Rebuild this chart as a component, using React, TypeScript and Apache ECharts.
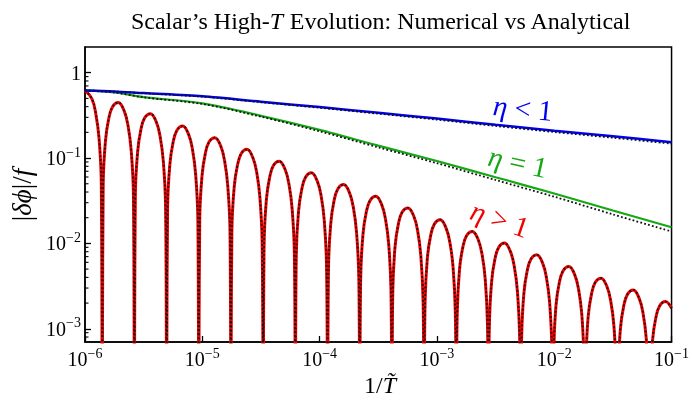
import React, { useEffect, useRef } from 'react';
import * as echarts from 'echarts';

// x-axis: 1/T~ (log10 values), y: |dphi|/f (log10 values)
const xTickExponents = [-6, -5, -4, -3, -2, -1];
const yTickExponents = [-3, -2, -1, 0];

const smoothLogX = [-6, -5.75, -5.5, -5, -4.5, -4, -3.5, -3, -2.5, -2, -1.5, -1];
const blueLogY = [-0.2075, -0.219, -0.239, -0.277, -0.34, -0.403, -0.47, -0.537, -0.61, -0.68, -0.745, -0.814];
const blueAnaLogY = [-0.2075, -0.22, -0.241, -0.281, -0.346, -0.411, -0.48, -0.55, -0.624, -0.695, -0.762, -0.832];
const greenLogY = [-0.2075, -0.232, -0.286, -0.36, -0.505, -0.67, -0.855, -1.035, -1.225, -1.415, -1.615, -1.81];
const greenAnaLogY = [-0.2075, -0.233, -0.289, -0.366, -0.515, -0.686, -0.875, -1.06, -1.257, -1.453, -1.66, -1.86];

const redLogX = [
  -6, -5.941, -5.908, -5.88, -5.861,
  -5.853, -5.845, -5.826, -5.798, -5.765, -5.716, -5.666, -5.633, -5.606, -5.587,
  -5.579, -5.571, -5.552, -5.524, -5.491, -5.442, -5.392, -5.359, -5.332, -5.313,
  -5.304, -5.296, -5.277, -5.249, -5.216, -5.167, -5.117, -5.084, -5.057, -5.038,
  -5.03, -5.022, -5.003, -4.975, -4.942, -4.893, -4.843, -4.81, -4.783, -4.764,
  -4.756, -4.748, -4.729, -4.701, -4.668, -4.619, -4.569, -4.536, -4.509, -4.49,
  -4.481, -4.473, -4.454, -4.426, -4.393, -4.344, -4.294, -4.261, -4.234, -4.215,
  -4.207, -4.199, -4.18, -4.152, -4.119, -4.07, -4.02, -3.987, -3.96, -3.941,
  -3.932, -3.924, -3.905, -3.877, -3.844, -3.795, -3.745, -3.712, -3.685, -3.666,
  -3.658, -3.65, -3.631, -3.603, -3.57, -3.521, -3.471, -3.438, -3.411, -3.392,
  -3.384, -3.376, -3.357, -3.329, -3.296, -3.247, -3.197, -3.164, -3.137, -3.118,
  -3.109, -3.101, -3.082, -3.054, -3.021, -2.972, -2.922, -2.889, -2.862, -2.843,
  -2.835, -2.827, -2.808, -2.78, -2.747, -2.698, -2.648, -2.615, -2.588, -2.569,
  -2.561, -2.553, -2.534, -2.506, -2.473, -2.424, -2.374, -2.341, -2.314, -2.295,
  -2.286, -2.278, -2.259, -2.231, -2.198, -2.149, -2.099, -2.066, -2.039, -2.02,
  -2.012, -2.004, -1.985, -1.957, -1.924, -1.875, -1.825, -1.792, -1.765, -1.746,
  -1.738, -1.73, -1.711, -1.683, -1.65, -1.601, -1.551, -1.518, -1.491, -1.472,
  -1.463, -1.455, -1.436, -1.408, -1.375, -1.326, -1.276, -1.243, -1.216, -1.197,
  -1.189, -1.181, -1.162, -1.134, -1.101, -1.052, -1.0,
];
const redLogY = [
  -0.2075, -0.306, -0.48, -0.773, -1.298,
  -4, -1.312, -0.805, -0.54, -0.399, -0.35, -0.448, -0.622, -0.915, -1.44,
  -4, -1.442, -0.935, -0.67, -0.529, -0.48, -0.578, -0.752, -1.045, -1.57,
  -4, -1.586, -1.079, -0.814, -0.673, -0.624, -0.722, -0.896, -1.189, -1.714,
  -4, -1.723, -1.216, -0.951, -0.81, -0.761, -0.859, -1.033, -1.326, -1.851,
  -4, -1.86, -1.353, -1.088, -0.947, -0.898, -0.996, -1.17, -1.463, -1.988,
  -4, -1.998, -1.491, -1.226, -1.085, -1.036, -1.134, -1.308, -1.601, -2.126,
  -4, -2.135, -1.628, -1.363, -1.222, -1.173, -1.271, -1.445, -1.738, -2.263,
  -4, -2.272, -1.765, -1.5, -1.359, -1.31, -1.408, -1.582, -1.875, -2.4,
  -4, -2.409, -1.902, -1.637, -1.496, -1.447, -1.545, -1.719, -2.012, -2.537,
  -4, -2.546, -2.039, -1.774, -1.633, -1.584, -1.682, -1.856, -2.149, -2.674,
  -4, -2.684, -2.177, -1.912, -1.771, -1.722, -1.82, -1.994, -2.287, -2.812,
  -4, -2.821, -2.314, -2.049, -1.908, -1.859, -1.957, -2.131, -2.424, -2.949,
  -4, -2.958, -2.451, -2.186, -2.045, -1.996, -2.094, -2.268, -2.561, -3.086,
  -4, -3.095, -2.588, -2.323, -2.182, -2.133, -2.231, -2.405, -2.698, -3.223,
  -4, -3.232, -2.725, -2.46, -2.319, -2.27, -2.368, -2.542, -2.835, -3.36,
  -4, -3.369, -2.862, -2.597, -2.456, -2.407, -2.505, -2.679, -2.972, -3.497,
  -4, -3.507, -3.0, -2.735, -2.594, -2.545, -2.643, -2.817, -3.11, -3.635,
  -4, -3.643, -3.136, -2.871, -2.73, -2.681, -2.76,
];

const SERIF = "'Liberation Serif', 'DejaVu Serif', serif";

export default function App() {
  const ref = useRef<HTMLDivElement>(null);
  useEffect(() => {
    const el = ref.current;
    if (!el) return;
    const chart = echarts.init(el, null, { renderer: 'svg' });
    const toPts = (xs: number[], ys: number[]) => xs.map((lx, i) => [Math.pow(10, lx), Math.pow(10, ys[i])]);
    const fmt = (v: number) => {
      const l = Math.log10(v);
      const e = Math.round(l);
      if (Math.abs(l - e) > 1e-6) return '';
      if (!xTickExponents.includes(e) && !yTickExponents.includes(e)) return '';
      if (e === 0) return '{b|1}';
      return `{b|10}{s|\u2212${-e}}`;
    };
    const rich = {
      b: { fontFamily: SERIF, fontSize: 20, lineHeight: 26, color: '#000' },
      s: { fontFamily: SERIF, fontSize: 14, lineHeight: 12, verticalAlign: 'top', color: '#000' },
    };
    const line = (data: number[][], color: string, width: number, z: number, smooth: number, dotted = false) => ({
      type: 'line',
      data,
      showSymbol: false,
      symbol: 'none',
      smooth,
      clip: true,
      silent: true,
      z,
      lineStyle: dotted
        ? { color: '#111', width: 1.8, type: [1.8, 2.2] }
        : { color, width },
    });
    const axisCommon = {
      type: 'log',
      logBase: 10,
      axisLine: { show: true, onZero: false, lineStyle: { color: '#000', width: 1.5 } },
      axisTick: { show: true, inside: true, length: 6, lineStyle: { color: '#000', width: 1.3 } },
      splitLine: { show: false },
      minorTick: { show: false },
      minorSplitLine: { show: false },
    };
    chart.setOption({
      animation: false,
      grid: { left: 85, right: 18, top: 47, bottom: 59, show: true, borderColor: '#000', borderWidth: 1.5, backgroundColor: 'transparent' },
      xAxis: {
        ...axisCommon,
        min: 1e-6,
        max: 1e-1,
        axisLabel: { formatter: fmt, rich, margin: 4 },
      },
      yAxis: {
        ...axisCommon,
        min: 7e-4,
        max: 2,
        axisLabel: { formatter: fmt, rich, margin: 4, showMinLabel: false, showMaxLabel: false },
      },
      series: [
        line(toPts(redLogX, redLogY), '#f20000', 3, 2, 0.4),
        line(toPts(redLogX, redLogY), '#000', 2, 3, 0.4, true),
        line(toPts(smoothLogX, greenLogY), '#14a814', 2.2, 4, 0.3),
        line(toPts(smoothLogX, greenAnaLogY), '#000', 2, 5, 0.3, true),
        line(toPts(smoothLogX, blueLogY), '#0000f0', 2.5, 6, 0.3),
        line(toPts(smoothLogX, blueAnaLogY), '#000', 2, 7, 0.3, true),
      ],
    });

    const x0 = chart.convertToPixel({ xAxisIndex: 0 }, 1e-6) as number;
    const minor: number[] = [];
    for (let e = -4; e <= 0; e++) {
      for (let m = 2; m <= 9; m++) {
        const v = m * Math.pow(10, e);
        if (v > 7.05e-4 && v < 1.99) minor.push(v);
      }
    }
    const graphics: any[] = minor.map((v) => {
      const py = chart.convertToPixel({ yAxisIndex: 0 }, v) as number;
      return {
        type: 'line',
        silent: true,
        shape: { x1: x0, y1: py, x2: x0 + 3.5, y2: py },
        style: { stroke: '#000', lineWidth: 1.1 },
      };
    });
    const txt = (x: number, y: number, text: string, rich: any, rotation = 0) => ({
      type: 'text',
      x,
      y,
      rotation,
      silent: true,
      style: { text, rich, textAlign: 'center', textVerticalAlign: 'middle', align: 'center', verticalAlign: 'middle' },
    });
    const mk = (color: string, size: number) => ({
      i: { fontFamily: SERIF, fontStyle: 'italic', fontSize: size, fill: color },
      n: { fontFamily: SERIF, fontSize: size, fill: color },
    });
    graphics.push(txt(381, 21, '{n|Scalar\u2019s High-}{i|T}{n| Evolution: Numerical vs Analytical}', mk('#000', 24)));
    graphics.push(txt(380, 385, '{n|1/}{i|T\u0303}', mk('#000', 24)));
    graphics.push(txt(22, 195, '{n||}{i|\u03b4\u03d5}{n||/}{i|f}', mk('#000', 27), Math.PI / 2));
    graphics.push(txt(523, 108, '{i|\u03b7}{n| < 1}', mk('#0000f0', 29), -0.1));
    graphics.push(txt(518, 162, '{i|\u03b7}{n| = 1}', mk('#14a814', 29), -0.22));
    graphics.push(txt(500, 219, '{i|\u03b7}{n| > 1}', mk('#f20000', 29), -0.33));
    chart.setOption({ graphic: graphics });

    return () => chart.dispose();
  }, []);
  return <div ref={ref} style={{ position: 'fixed', left: 0, top: 0, width: 692, height: 401 }} />;
}
